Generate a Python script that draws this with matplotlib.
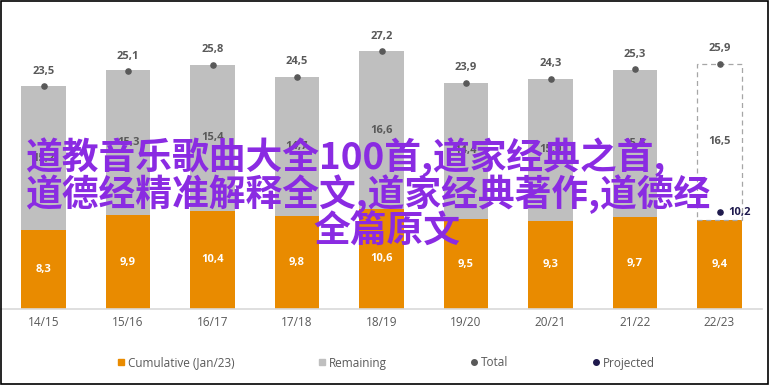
import numpy as np
import matplotlib
matplotlib.use('Agg')
from matplotlib import pyplot as plt
from matplotlib.lines import Line2D
from matplotlib.patches import Rectangle

periods = ['14/15', '15/16', '16/17', '17/18', '18/19', '19/20', '20/21', '21/22', '22/23']
cumulative = [8.3, 9.9, 10.4, 9.8, 10.6, 9.5, 9.3, 9.7, 9.4]
remaining = [15.2, 15.3, 15.4, 14.7, 16.6, 14.4, 15.0, 15.5, 16.5]
total = [23.5, 25.1, 25.8, 24.5, 27.2, 23.9, 24.3, 25.3, 25.9]
projected = 10.2

overlay_lines = ['道教音乐歌曲大全100首,道家经典之首,',
                 '道德经精准解释全文,道家经典著作,道德经',
                 '全篇原文']

orange = '#E98B00'
grey = '#BFBFBF'
dark = '#595959'
navy = '#1F1A4D'
purple = '#8A2BE2'

plt.rcParams['font.family'] = ['Open Sans', 'DejaVu Sans']

fig = plt.figure(figsize=(7.7, 3.85), dpi=100)
ax = fig.add_axes([1.25 / 770, 76 / 385, 760.5 / 770, 299 / 385])

x = np.arange(len(periods))
w = 0.53
n = len(periods)

ax.bar(x, cumulative, w, color=orange, zorder=2)
# remaining: filled for past seasons, dashed outline for the projected one
ax.bar(x[:-1], remaining[:-1], w, bottom=cumulative[:-1], color=grey, zorder=2)
ax.bar(x[-1:], [total[-1] - cumulative[-1]], w, bottom=cumulative[-1:], fill=False,
       edgecolor='#A6A6A6', linestyle=(0, (4, 3)), linewidth=0.9, zorder=2)

ax.scatter(x, total, s=14, color=dark, zorder=3)
ax.scatter([x[-1]], [projected], s=14, color=navy, zorder=3)

fmt = lambda v: ('%.1f' % v).replace('.', ',')
for i in range(n):
    ax.annotate(fmt(total[i]), (x[i], total[i]), xytext=(0, 7), textcoords='offset points',
                ha='center', va='bottom', fontsize=8, fontweight='bold', color=dark, zorder=4)
    ax.text(x[i], cumulative[i] / 2, fmt(cumulative[i]), ha='center', va='center',
            fontsize=8, fontweight='bold', color='white', zorder=4)
    ax.text(x[i], cumulative[i] + remaining[i] / 2, fmt(remaining[i]), ha='center', va='center',
            fontsize=8, fontweight='bold', color=dark, zorder=4)
ax.annotate(fmt(projected), (x[-1], projected), xytext=(6, 0), textcoords='offset points',
            ha='left', va='center', fontsize=8, fontweight='bold', color=navy, zorder=4)

ax.set_xlim(-0.5, n - 0.5)
ax.set_ylim(0, 299 / 9.47)
ax.set_xticks(x)
ax.set_xticklabels(periods, fontsize=8.5, color=dark)
ax.tick_params(axis='x', length=0, pad=5)
ax.set_yticks([])
for s in ['top', 'left', 'right']:
    ax.spines[s].set_visible(False)
ax.spines['bottom'].set_color('#D9D9D9')
ax.spines['bottom'].set_linewidth(1.2)

handles = [
    Line2D([], [], marker='s', linestyle='none', color=orange, markersize=5),
    Line2D([], [], marker='s', linestyle='none', color=grey, markersize=5),
    Line2D([], [], marker='o', linestyle='none', color=dark, markersize=4),
    Line2D([], [], marker='o', linestyle='none', color=navy, markersize=4),
]
fig.legend(handles, ['Cumulative (Jan/23)', 'Remaining', 'Total', 'Projected'],
           loc='center', bbox_to_anchor=(386 / 770, 1 - 363 / 385), ncol=4, frameon=False,
           fontsize=8.5, labelcolor=dark, handlelength=0.6, handletextpad=0.3, columnspacing=7.1)

# purple overlay text
cjk = ['Noto Sans CJK SC', 'DejaVu Sans']
fig.text(25 / 770, 1 - 169 / 385, overlay_lines[0], family=cjk, fontsize=26.5,
         fontweight='bold', color=purple, ha='left', va='baseline')
fig.text(25 / 770, 1 - 206 / 385, overlay_lines[1], family=cjk, fontsize=26.5,
         fontweight='bold', color=purple, ha='left', va='baseline')
fig.text(387 / 770, 1 - 243 / 385, overlay_lines[2], family=cjk, fontsize=26.5,
         fontweight='bold', color=purple, ha='center', va='baseline')

fig.patches.append(Rectangle((0.7 / 770, 1.5 / 385), 767 / 770, 382.5 / 385, fill=False,
                             edgecolor='black', linewidth=1.2, transform=fig.transFigure))

fig.savefig('out.png', dpi=100)
